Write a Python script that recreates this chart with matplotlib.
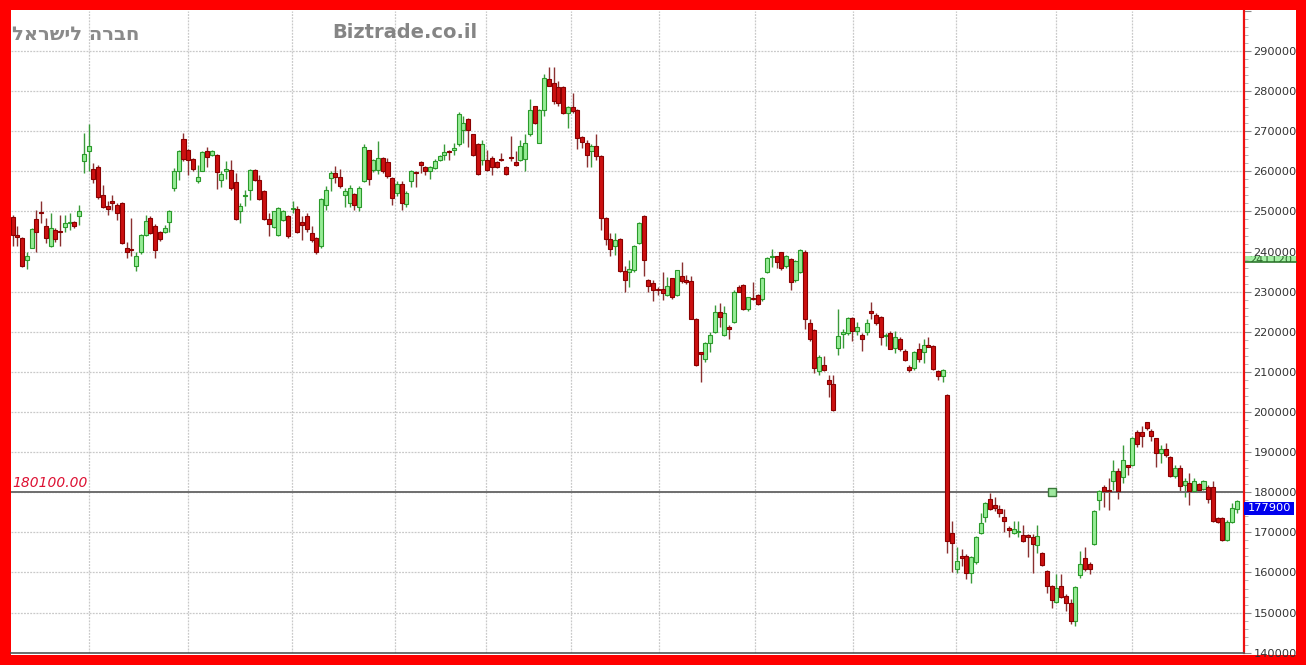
import matplotlib
matplotlib.use('Agg')
import matplotlib.pyplot as plt
import numpy as np
from matplotlib.patches import Rectangle
from matplotlib.transforms import blended_transform_factory
from matplotlib.ticker import MultipleLocator, FuncFormatter

# ---------------- data (prices in thousands) ----------------
open_k = [
    248.6, 244.2, 243.3, 237.8, 241.0, 248.1, 249.9, 246.3, 241.4, 245.4,
    245.2, 246.1, 247.1, 247.3, 248.8, 262.5, 265.0, 260.6, 261.1, 254.2,
    251.3, 252.7, 251.7, 252.1, 240.8, 240.4, 236.4, 239.8, 244.2, 248.3,
    246.4, 244.8, 244.8, 247.3, 255.8, 260.0, 268.1, 265.4, 263.1, 257.7,
    260.2, 265.0, 264.2, 264.2, 257.9, 260.2, 260.4, 257.3, 250.0, 253.8,
    255.4, 260.4, 257.9, 255.0, 248.1, 246.1, 244.2, 247.8, 248.8, 250.6,
    250.6, 247.3, 248.8, 244.6, 243.3, 241.4, 251.7, 258.3, 259.6, 258.6,
    254.2, 252.1, 254.3, 251.2, 257.5, 265.3, 260.4, 260.4, 263.3, 262.3,
    258.3, 254.6, 256.9, 251.9, 257.5, 259.9, 262.3, 261.1, 260.0, 260.8,
    262.8, 264.0, 264.9, 265.4, 266.7, 270.2, 273.1, 269.2, 266.7, 262.9,
    262.9, 263.3, 262.3, 263.0, 261.1, 263.5, 262.3, 262.9, 263.1, 269.2,
    276.3, 267.1, 275.3, 283.1, 282.1, 281.1, 281.1, 274.6, 276.1, 275.4,
    268.6, 267.1, 265.0, 266.4, 263.9, 248.3, 243.1, 241.3, 243.1, 235.2,
    234.8, 235.4, 242.1, 248.9, 232.9, 232.1, 230.5, 230.6, 229.2, 233.3,
    229.2, 233.8, 232.9, 232.7, 223.3, 214.7, 213.1, 217.3, 220.0, 225.0,
    219.2, 221.3, 222.5, 231.1, 231.7, 225.8, 228.4, 229.2, 228.1, 235.0,
    238.6, 238.8, 239.8, 236.3, 238.1, 232.8, 235.0, 240.0, 222.3, 220.4,
    210.2, 211.6, 208.1, 207.1, 216.0, 219.5, 219.6, 223.5, 220.2, 219.1,
    219.9, 225.2, 224.3, 223.8, 218.9, 219.6, 216.0, 218.3, 215.2, 211.3,
    211.0, 215.8, 214.9, 216.6, 216.4, 210.3, 209.1, 204.2, 169.8, 160.8,
    163.8, 164.2, 159.8, 162.5, 169.8, 173.8, 178.3, 176.9, 175.8, 173.9,
    170.8, 169.8, 170.0, 169.4, 169.0, 168.9, 166.9, 164.8, 160.4, 156.7,
    152.7, 156.7, 154.2, 152.5, 147.9, 159.3, 163.6, 162.1, 167.1, 178.1,
    181.4, 180.3, 182.7, 185.2, 183.9, 186.5, 186.8, 194.9, 194.9, 197.4,
    195.2, 193.5, 189.8, 190.8, 188.9, 184.1, 186.0, 181.8, 182.4, 180.2,
    182.1, 180.8, 181.4, 181.4, 173.5, 173.5, 168.1, 172.7, 175.8,
]
high_k = [
    249.0, 246.3, 243.6, 240.0, 245.8, 250.4, 252.7, 248.3, 249.6, 246.0,
    249.2, 249.2, 249.6, 247.6, 251.7, 269.6, 271.7, 262.1, 261.6, 256.7,
    252.5, 254.2, 252.1, 252.4, 242.5, 248.3, 239.8, 244.5, 249.2, 248.8,
    246.8, 245.2, 246.7, 250.4, 260.8, 265.4, 269.6, 265.5, 263.4, 261.7,
    265.0, 266.0, 265.4, 264.4, 260.0, 262.7, 262.9, 259.6, 252.1, 255.4,
    260.5, 260.6, 259.2, 255.3, 249.6, 250.2, 251.0, 250.3, 249.0, 252.5,
    251.3, 248.8, 249.6, 246.4, 243.6, 253.3, 256.3, 260.0, 261.4, 260.6,
    255.8, 256.7, 254.6, 256.3, 266.7, 265.4, 263.2, 267.5, 263.6, 263.3,
    258.5, 257.5, 257.5, 255.0, 260.4, 260.0, 262.5, 261.3, 261.4, 263.0,
    264.0, 266.7, 265.4, 267.1, 274.8, 273.8, 273.3, 269.4, 267.0, 267.9,
    265.4, 263.8, 262.6, 264.6, 261.4, 268.8, 265.0, 267.9, 269.2, 278.1,
    276.4, 275.5, 284.2, 286.1, 286.1, 282.5, 281.4, 276.3, 279.6, 275.6,
    268.8, 267.9, 266.7, 269.4, 264.2, 248.5, 244.6, 244.6, 243.3, 236.4,
    237.9, 241.7, 247.4, 249.0, 233.1, 232.9, 231.1, 235.0, 233.6, 233.5,
    235.5, 237.5, 234.2, 233.8, 223.5, 215.0, 217.5, 220.0, 226.7, 227.1,
    226.4, 221.7, 230.3, 231.7, 232.0, 228.8, 232.3, 229.5, 233.6, 238.6,
    240.6, 238.9, 240.0, 239.2, 238.3, 238.0, 240.6, 240.3, 223.3, 220.6,
    214.3, 213.9, 209.3, 209.3, 225.6, 220.6, 223.8, 223.8, 222.4, 219.8,
    223.3, 227.4, 224.8, 224.0, 219.6, 220.2, 220.2, 218.6, 215.6, 211.8,
    215.2, 217.3, 218.1, 218.7, 216.6, 210.6, 210.8, 204.4, 172.9, 166.4,
    165.8, 164.6, 164.0, 169.0, 174.8, 177.5, 179.8, 178.8, 176.7, 175.8,
    171.7, 172.9, 172.9, 171.9, 169.6, 169.6, 171.9, 165.0, 160.6, 156.9,
    159.6, 159.6, 154.6, 153.3, 156.6, 165.4, 166.4, 162.7, 175.6, 180.6,
    181.8, 183.5, 188.1, 186.0, 191.8, 186.8, 193.8, 195.6, 196.4, 197.5,
    195.8, 193.6, 191.8, 192.3, 189.1, 186.8, 186.8, 183.5, 184.8, 183.5,
    182.4, 183.0, 181.8, 182.9, 173.8, 173.8, 173.0, 177.3, 178.1,
]
low_k = [
    241.3, 241.3, 236.2, 235.6, 240.8, 240.0, 247.1, 242.1, 241.2, 242.5,
    241.3, 245.0, 245.4, 245.8, 246.7, 259.6, 260.0, 257.1, 253.2, 250.8,
    249.2, 250.4, 247.9, 241.8, 238.3, 238.8, 235.2, 239.5, 244.0, 244.4,
    238.3, 242.7, 244.6, 245.0, 255.2, 257.9, 262.5, 259.2, 260.2, 257.2,
    260.0, 261.2, 263.8, 255.6, 256.1, 258.1, 255.4, 247.9, 247.2, 251.4,
    252.9, 257.6, 252.9, 247.9, 243.8, 245.8, 243.9, 247.5, 243.5, 249.6,
    244.6, 242.9, 245.0, 242.5, 239.5, 241.0, 250.4, 255.0, 257.1, 255.8,
    251.2, 251.1, 250.4, 250.0, 257.3, 256.7, 259.8, 259.4, 259.6, 258.3,
    251.7, 253.8, 250.4, 251.2, 256.2, 256.2, 259.6, 259.2, 258.1, 260.5,
    262.5, 262.9, 262.9, 264.2, 266.4, 267.1, 266.1, 263.8, 259.0, 261.7,
    260.0, 259.2, 260.8, 262.5, 259.1, 262.5, 261.4, 262.5, 260.0, 268.8,
    271.7, 267.0, 273.8, 281.2, 276.7, 276.2, 274.3, 270.8, 274.6, 265.6,
    265.8, 261.2, 261.2, 262.9, 245.5, 241.7, 238.8, 239.2, 235.0, 230.0,
    231.1, 235.0, 241.8, 233.9, 230.0, 227.8, 229.2, 227.9, 229.0, 228.1,
    229.0, 232.1, 231.9, 223.2, 211.5, 207.5, 212.5, 215.0, 219.8, 221.2,
    219.0, 218.1, 222.2, 229.8, 225.5, 225.2, 227.9, 226.6, 227.8, 234.7,
    236.2, 235.8, 235.5, 236.0, 230.4, 232.5, 234.7, 220.6, 217.7, 209.8,
    209.3, 210.2, 203.8, 200.2, 214.3, 216.0, 219.3, 217.7, 219.3, 215.2,
    219.3, 223.1, 221.6, 216.8, 216.4, 215.6, 214.8, 215.3, 212.7, 210.1,
    210.6, 212.4, 212.3, 216.1, 210.5, 207.9, 207.4, 164.8, 160.0, 159.8,
    161.7, 158.3, 157.5, 162.2, 169.6, 172.5, 175.6, 175.4, 173.8, 170.0,
    168.8, 169.6, 168.8, 167.5, 163.8, 159.8, 164.8, 161.5, 155.0, 151.2,
    152.5, 153.7, 150.4, 147.1, 146.7, 158.6, 160.4, 159.6, 166.9, 175.6,
    176.4, 175.6, 180.6, 178.3, 182.3, 184.3, 186.5, 191.3, 191.4, 195.6,
    192.7, 186.3, 187.4, 188.9, 183.9, 183.5, 180.2, 178.8, 176.8, 180.0,
    180.3, 180.5, 177.4, 172.7, 172.4, 167.8, 167.8, 172.3, 174.8,
]
close_k = [
    244.2, 243.6, 236.4, 238.9, 245.6, 245.0, 249.6, 243.3, 245.8, 243.1,
    244.8, 247.1, 247.4, 246.3, 250.2, 264.3, 266.4, 258.1, 253.6, 251.1,
    250.6, 252.1, 249.6, 242.1, 240.0, 240.3, 238.8, 244.2, 247.7, 244.6,
    240.4, 243.1, 246.0, 250.2, 260.0, 265.0, 263.1, 262.9, 260.6, 258.5,
    264.8, 263.5, 265.0, 259.8, 259.3, 260.3, 255.8, 248.1, 251.4, 253.8,
    260.4, 257.9, 253.1, 248.1, 246.9, 250.0, 250.8, 250.0, 243.8, 250.6,
    245.0, 246.7, 245.6, 242.9, 239.8, 253.1, 255.4, 259.6, 258.6, 256.4,
    255.0, 255.8, 251.7, 255.8, 266.0, 258.1, 262.9, 263.3, 260.0, 258.8,
    253.3, 256.9, 252.1, 254.6, 260.0, 259.6, 261.7, 260.0, 261.1, 262.7,
    263.8, 264.8, 264.7, 265.8, 274.2, 272.1, 270.2, 264.2, 259.3, 266.8,
    260.4, 261.0, 261.1, 262.8, 259.4, 263.3, 261.7, 266.4, 267.0, 275.2,
    272.1, 275.2, 283.3, 281.4, 277.5, 277.1, 274.6, 276.1, 275.0, 268.3,
    267.3, 264.2, 266.4, 263.8, 248.3, 243.1, 240.6, 242.9, 235.2, 232.9,
    235.6, 241.4, 247.1, 237.8, 231.4, 230.3, 230.4, 229.6, 231.4, 228.8,
    235.3, 232.7, 232.3, 223.3, 211.7, 214.5, 217.1, 219.2, 225.0, 223.6,
    224.6, 220.6, 230.0, 230.0, 225.8, 228.6, 228.2, 226.9, 233.3, 238.3,
    238.6, 237.3, 235.8, 238.9, 232.3, 237.7, 240.4, 223.1, 218.3, 211.0,
    213.8, 210.6, 207.1, 200.4, 218.9, 219.6, 223.5, 220.2, 221.3, 218.3,
    222.3, 224.6, 222.1, 218.8, 218.9, 215.8, 218.8, 215.6, 212.9, 210.4,
    214.9, 213.1, 216.6, 216.3, 210.8, 208.9, 210.6, 167.8, 167.3, 162.8,
    163.7, 159.8, 163.8, 168.8, 172.3, 177.3, 175.8, 176.0, 174.8, 172.8,
    170.7, 170.8, 170.1, 167.9, 168.9, 167.1, 169.2, 161.8, 156.7, 153.1,
    156.1, 153.9, 152.3, 147.9, 156.4, 162.1, 160.8, 160.8, 175.4, 180.2,
    180.2, 180.2, 185.2, 180.2, 188.1, 186.4, 193.5, 192.0, 193.9, 196.0,
    193.9, 189.8, 190.8, 189.3, 184.1, 186.0, 181.6, 182.7, 180.2, 182.7,
    180.6, 182.7, 178.3, 172.9, 172.7, 168.1, 172.7, 176.0, 177.9,
]
ref_level = 180100
alert_index = 219
side_label_value = "241120"
month_breaks = [16.1, 36.9, 58.9, 80.6, 99.7, 117.6, 136.2, 156.4, 177.1, 198.8, 219.9, 235.9]
title_he = "חברה לישראל"
brand = "Biztrade.co.il"

# ---------------- figure ----------------
W, H = 1306, 665
fig = plt.figure(figsize=(W / 100, H / 100), dpi=100)
fig.patch.set_facecolor('#ff0000')
fig.patches.append(Rectangle((11 / W, 10 / H), (1296 - 11) / W, 645 / H,
                             transform=fig.transFigure, facecolor='white',
                             edgecolor='none', zorder=-10))

ax_l, ax_r, ax_t, ax_b = 11, 1244.3, 10.9, 652.7
ax = fig.add_axes([ax_l / W, (H - ax_b) / H, (ax_r - ax_l) / W, (ax_b - ax_t) / H])
ax.set_facecolor('white')

o = np.array(open_k) * 1000
h = np.array(high_k) * 1000
l = np.array(low_k) * 1000
c = np.array(close_k) * 1000
x = np.arange(len(o))
up = c >= o

# grid
for mb in month_breaks:
    ax.axvline(mb, color='#c9c9c9', lw=0.9, ls=(0, (1.5, 1)), zorder=0.5)
for yv in range(150000, 300000, 10000):
    ax.axhline(yv, color='#c9c9c9', lw=0.9, ls=(0, (1.5, 1)), zorder=0.5)

# wicks
ax.vlines(x[up], l[up], h[up], color='#3a9a3a', lw=1.0, zorder=2)
ax.vlines(x[~up], l[~up], h[~up], color='#8a3030', lw=1.0, zorder=2)

# bodies
bw = 0.85
minh = 350
bottom = np.minimum(o, c)
height = np.maximum(np.abs(c - o), minh)
ax.bar(x[up], height[up], bottom=bottom[up], width=bw, color='#96ec96',
       edgecolor='#2a9a2a', linewidth=0.8, zorder=3)
ax.bar(x[~up], height[~up], bottom=bottom[~up], width=bw, color='#cc1010',
       edgecolor='#8a0000', linewidth=0.8, zorder=3)

# reference line
ax.axhline(ref_level, color='#6e6e6e', lw=1.4, zorder=2.5)
ax.plot([alert_index], [ref_level], marker='s', ms=5.5, mfc='#9ee89e',
        mec='#3a7a3a', mew=1.0, zorder=4)
ax.annotate(f"{ref_level:.2f}", xy=(0, ref_level), xycoords=('axes fraction', 'data'),
            xytext=(1.5, 4.5), textcoords='offset pixels', ha='left', va='baseline',
            fontsize=10, style='italic', color='#dd1133')

ax.set_xlim(-0.36, 259.6)
ax.set_ylim(140000, 300000)

# axes styling
for s in ['left', 'top']:
    ax.spines[s].set_visible(False)
ax.spines['right'].set_color('#ee1111')
ax.spines['right'].set_linewidth(1.6)
ax.spines['bottom'].set_color('#555555')
ax.spines['bottom'].set_linewidth(1.2)
ax.set_xticks([])
ax.yaxis.tick_right()
ax.yaxis.set_major_locator(MultipleLocator(10000))
ax.yaxis.set_minor_locator(MultipleLocator(2000))
ax.yaxis.set_major_formatter(FuncFormatter(lambda v, p: f"{int(v)}" if 140000 <= v <= 290000 else ""))
ax.tick_params(axis='y', which='major', length=5, width=0.8, color='#888888',
               labelsize=8.2, labelcolor='#333333', pad=1.5)
ax.tick_params(axis='y', which='minor', length=3, width=0.6, color='#aaaaaa')

# side labels
blend = blended_transform_factory(ax.transAxes, ax.transData)
lab_w = 52 / (ax_r - ax_l)
g_rect = Rectangle((1.0, 237500), lab_w, 1500, transform=blend, clip_on=False,
                   facecolor='#a6f0a6', edgecolor='none', zorder=0.6)
ax.add_patch(g_rect)
ax.plot([1.0, 1.0 + lab_w], [237500, 237500], transform=blend, clip_on=False,
        color='#2d7a2d', lw=1.2, zorder=0.7)
gt = ax.text(1.0 + lab_w / 2, 238000, side_label_value, transform=blend, ha='center',
             va='center', fontsize=8.2, color='#2d6a2d', zorder=0.8, clip_on=True)
gt.set_clip_path(g_rect)

last = c[-1]
b_rect = Rectangle((1.0, last - 3500), 50 / (ax_r - ax_l), 3100, transform=blend,
                   clip_on=False, facecolor='#0000ee', edgecolor='none', zorder=5)
ax.add_patch(b_rect)
ax.text(1.0 + 25 / (ax_r - ax_l), last - 1950, f"{int(round(last))}", transform=blend,
        ha='center', va='center', fontsize=8.2, color='white', zorder=6, clip_on=False)

# titles (matplotlib has no bidi layout, so the Hebrew glyphs are laid out in visual order)
fig.text(12 / W, 1 - 39.5 / H, title_he[::-1], fontsize=14, fontweight='bold',
         color='#8a8a8a', ha='left', va='baseline', family='DejaVu Sans')
fig.text(332 / W, 1 - 38.5 / H, brand, fontsize=14, fontweight='bold',
         color='#858585', ha='left', va='baseline')

fig.savefig('out.png', dpi=100, facecolor=fig.get_facecolor())
